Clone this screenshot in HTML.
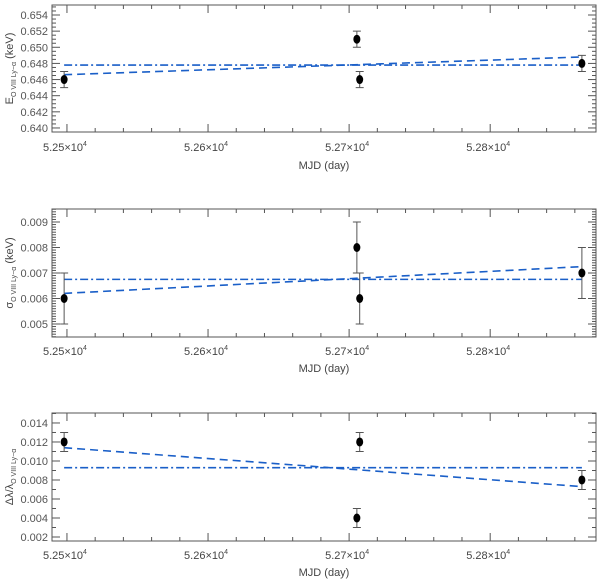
<!DOCTYPE html>
<html><head><meta charset="utf-8"><style>
body{margin:0;background:#fff}
svg{display:block;font-family:"Liberation Sans",sans-serif}
</style></head><body>
<svg id="c" width="600" height="583" viewBox="0 0 600 583"></svg>
<script>
const mjd = [52498, 52705.5, 52707.5, 52865];
const energy = [0.646, 0.651, 0.646, 0.648];
const energyErr = [0.001, 0.001, 0.001, 0.001];
const sigma = [0.006, 0.008, 0.006, 0.007];
const sigmaErr = [0.001, 0.001, 0.001, 0.001];
const dlam = [0.012, 0.004, 0.012, 0.008];
const dlamErr = [0.001, 0.001, 0.001, 0.001];
const energyLinFit = [0.6466, 0.6488];
const energyConst = 0.6478;
const sigmaLinFit = [0.0062, 0.00725];
const sigmaConst = 0.00675;
const dlamLinFit = [0.0114, 0.0073];
const dlamConst = 0.0093;
const xTicks = [52500, 52600, 52700, 52800];
const xTickLabels = ["5.25", "5.26", "5.27", "5.28"];
const energyTicks = [0.640, 0.642, 0.644, 0.646, 0.648, 0.650, 0.652, 0.654];
const sigmaTicks = [0.005, 0.006, 0.007, 0.008, 0.009];
const dlamTicks = [0.002, 0.004, 0.006, 0.008, 0.010, 0.012, 0.014];

const NS = "http://www.w3.org/2000/svg";
const svg = document.getElementById('c');
const X0 = 52, X1 = 596, XMIN = 52489.4, XMAX = 52875;
const xs = v => X0 + (v - XMIN) / (XMAX - XMIN) * (X1 - X0);
function mk(tag, attrs, parent) {
  const e = document.createElementNS(NS, tag);
  for (const k in attrs) e.setAttribute(k, attrs[k]);
  (parent || svg).appendChild(e);
  return e;
}
const AX = "#555", BLUE = "#1a5fc8";

const panels = [
  {name:"energy", top:5, bot:132, ymin:0.6395, ymax:0.65524, ticks:energyTicks, minor:0.0005, dec:3, y:energy, err:energyErr, lin:energyLinFit, cst:energyConst, xlabY:151, titleY:169, title:'E<tspan font-size="7" dy="3">O VIII Ly−α</tspan><tspan dy="-3"> (keV)</tspan>'},
  {name:"sigma", top:209, bot:337, ymin:0.00449, ymax:0.00951, ticks:sigmaTicks, minor:0.0001, dec:3, y:sigma, err:sigmaErr, lin:sigmaLinFit, cst:sigmaConst, xlabY:355, titleY:372, title:'σ<tspan font-size="7" dy="3">O VIII Ly−α</tspan><tspan dy="-3"> (keV)</tspan>'},
  {name:"delta-lambda", top:413, bot:541, ymin:0.00158, ymax:0.01505, ticks:dlamTicks, minor:0.001, dec:3, y:dlam, err:dlamErr, lin:dlamLinFit, cst:dlamConst, xlabY:559, titleY:576, title:'Δλ/λ<tspan font-size="7" dy="3">O VIII Ly−α</tspan>'}
];

panels.forEach(p => {
  const g = mk('g', {});
  
  
  const ys = v => p.bot - (v - p.ymin) / (p.ymax - p.ymin) * (p.bot - p.top);
  const fr = mk('rect', {x:X0, y:p.top, width:X1-X0, height:p.bot-p.top, fill:'none', stroke:AX, 'stroke-width':1}, g);
  
  
  // x ticks
  for (let v = 52500; v <= XMAX; v += 20) {
    const x = xs(v), major = (v % 100 === 0), L = major ? 8 : 4;
    mk('line', {x1:x, x2:x, y1:p.bot, y2:p.bot-L, stroke:AX}, g);
    mk('line', {x1:x, x2:x, y1:p.top, y2:p.top+L, stroke:AX}, g);
  }
  xTicks.forEach((v, i) => {
    const t = mk('text', {x:xs(v)-2, y:p.xlabY, 'font-size':11, fill:'#444', 'text-anchor':'middle'}, g);
    t.innerHTML = xTickLabels[i] + '×10<tspan font-size="7" dy="-5">4</tspan>';
    
    
  });
  const xt = mk('text', {x:324, y:p.titleY, 'font-size':11, fill:'#444', 'text-anchor':'middle'}, g);
  xt.textContent = 'MJD (day)';
  
  
  // y ticks
  const n = Math.round((p.ymax - p.ymin) / p.minor);
  const start = Math.ceil(p.ymin / p.minor - 1e-6);
  for (let k = start; k * p.minor <= p.ymax + 1e-9; k++) {
    const v = k * p.minor, y = ys(v);
    const major = p.ticks.some(t => Math.abs(t - v) < p.minor / 10);
    const L = major ? 8 : 4;
    mk('line', {x1:X0, x2:X0+L, y1:y, y2:y, stroke:AX}, g);
    mk('line', {x1:X1, x2:X1-L, y1:y, y2:y, stroke:AX}, g);
  }
  p.ticks.forEach(v => {
    const t = mk('text', {x:48, y:ys(v)+4, 'font-size':11, fill:'#555', 'text-anchor':'end'}, g);
    t.textContent = v.toFixed(p.dec);
    
    
  });
  const yc = (p.top + p.bot) / 2;
  const yt = mk('text', {x:0, y:0, 'font-size':11, fill:'#444', 'text-anchor':'middle', transform:`translate(13,${yc}) rotate(-90)`}, g);
  yt.innerHTML = p.title;
  
  
  // fits
  const lf = mk('line', {x1:xs(mjd[0]), x2:xs(mjd[3]), y1:ys(p.lin[0]), y2:ys(p.lin[1]), stroke:BLUE, 'stroke-width':1.6, 'stroke-dasharray':'8,5'}, g);
  
  
  const cf = mk('line', {x1:xs(mjd[0]), x2:xs(mjd[3]), y1:ys(p.cst), y2:ys(p.cst), stroke:BLUE, 'stroke-width':1.6, 'stroke-dasharray':'8,3,2,3'}, g);
  
  
  // points
  mjd.forEach((m, i) => {
    const x = xs(m), y = ys(p.y[i]), y1 = ys(p.y[i] - p.err[i]), y2 = ys(p.y[i] + p.err[i]);
    const eb = mk('path', {d:`M${x},${y1}V${y2}M${x-4},${y1}H${x+4}M${x-4},${y2}H${x+4}`, stroke:'#555', 'stroke-width':1, fill:'none'}, g);
    
    
    const pt = mk('ellipse', {cx:x, cy:y, rx:3.5, ry:4.5, fill:'#000'}, g);
    
    
  });
});
</script>
</body></html>
